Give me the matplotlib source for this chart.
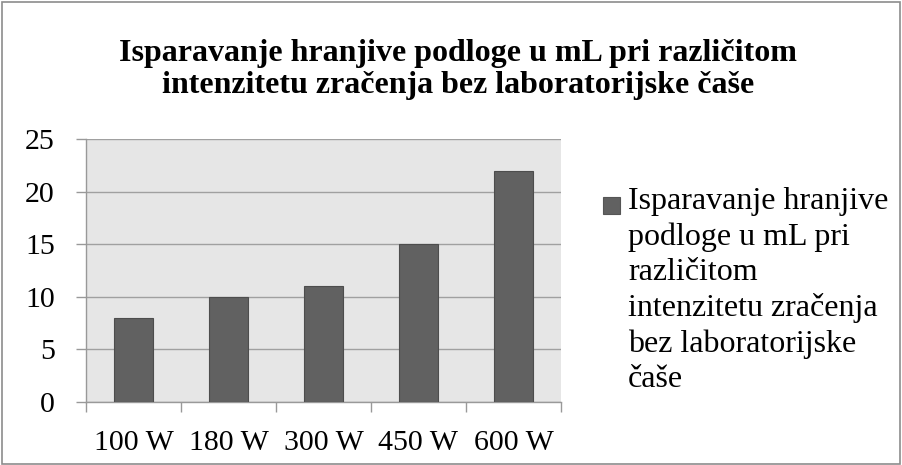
import matplotlib
matplotlib.use("Agg")
import matplotlib.pyplot as plt
from matplotlib.patches import Rectangle
from matplotlib.legend_handler import HandlerPatch

categories = ["100 W", "180 W", "300 W", "450 W", "600 W"]
values = [8, 10, 11, 15, 22]
yticks = [0, 5, 10, 15, 20, 25]
title_lines = ["Isparavanje hranjive podloge u mL pri različitom",
               "intenzitetu zračenja bez laboratorijske čaše"]
legend_label = "Isparavanje hranjive\npodloge u mL pri\nrazličitom\nintenzitetu zračenja\nbez laboratorijske\nčaše"

plt.rcParams['font.family'] = ['Liberation Serif', 'DejaVu Serif']

DPI = 100
W, H = 902, 465
fig = plt.figure(figsize=(W / DPI, H / DPI), dpi=DPI)
fig.patch.set_facecolor('white')
fig.add_artist(Rectangle((0.002, 0.003), 0.996, 0.993, transform=fig.transFigure,
                         fill=False, edgecolor='#8c8c8c', linewidth=1.2))

l, r, t, b = 86, 561, 139, 402
ax = fig.add_axes([l / W, 1 - b / H, (r - l) / W, (b - t) / H])
ax.set_facecolor('#e6e6e6')
x = list(range(len(categories)))
bars = ax.bar(x, values, width=0.41, color='#616161', edgecolor='#4d4d4d', linewidth=0.8,
              label=legend_label, zorder=3)
ax.set_xlim(-0.5, len(categories) - 0.5)
ax.set_ylim(0, 25)
ax.set_yticks(yticks)
ax.yaxis.grid(True, color='#a0a0a0', linewidth=1.0, zorder=1)
ax.set_axisbelow(True)
for s in ['top', 'right']:
    ax.spines[s].set_visible(False)
for s in ['left', 'bottom']:
    ax.spines[s].set_color('#999999')
    ax.spines[s].set_linewidth(1.0)
ax.set_xticks([i - 0.5 for i in range(len(categories) + 1)], minor=False)
ax.set_xticklabels([''] * (len(categories) + 1))
ax.set_xticks(x, minor=True)
ax.set_xticklabels(categories, minor=True, fontsize=21.5)
XPAD, YPAD = 19.0, 14.0
ax.tick_params(axis='x', which='major', length=7.5, color='#999999', width=1.0)
ax.tick_params(axis='x', which='minor', length=0, pad=XPAD)
ax.tick_params(axis='y', length=7.5, color='#999999', width=1.0, labelsize=21.5, pad=YPAD)

# title, two lines at their baselines
for line, base in zip(title_lines, [61, 93.5]):
    fig.text(458 / W, 1 - base / H, line, ha='center', va='baseline', fontsize=23,
             fontweight='bold')

FS = 23


class TopSquare(HandlerPatch):
    def create_artists(self, legend, orig_handle, xdescent, ydescent, width, height, fontsize, trans):
        s = 0.52 * fontsize
        p = Rectangle((-xdescent, -ydescent), s, s,
                      facecolor=orig_handle.get_facecolor(), edgecolor='#555555', lw=0.8,
                      transform=trans)
        return [p]


anchor = [602 / W, 1 - 190 / H]
leg = fig.legend(handles=[bars.patches[0]], labels=[legend_label], loc='upper left',
                 bbox_to_anchor=tuple(anchor), frameon=False, fontsize=FS,
                 handlelength=0.55, handleheight=0.7, handletextpad=0.3,
                 borderpad=0, borderaxespad=0,
                 handler_map={Rectangle: TopSquare()})

# --- calibrate layout against the reference's pixel positions ---
fig.canvas.draw()
rend = fig.canvas.get_renderer()
txt = leg.get_texts()[0]
_, lp_h, lp_d = rend.get_text_width_height_descent("lp", txt.get_fontproperties(), ismath=False)
txt.set_linespacing((35.0 - lp_d) / (lp_h - lp_d))
fig.canvas.draw()
ext = txt.get_window_extent(rend)
last_base = ext.y0 + lp_d
dy = (H - 387) - last_base
dx = 628 - ext.x0
anchor = [anchor[0] + dx / W, anchor[1] + dy / H]
leg.set_bbox_to_anchor(tuple(anchor), transform=fig.transFigure)
fig.canvas.draw()
handle = leg.legend_handles[0]
hext = handle.get_window_extent(rend)
hdx = 603 - hext.x0
hdy = (H - 197) - hext.y1
handle.set_x(handle.get_x() + hdx * 72 / DPI)
handle.set_y(handle.get_y() + hdy * 72 / DPI)

# x tick labels: baseline at y=450
lab = [tl for tl in ax.xaxis.get_minorticklabels() if tl.get_text()][0]
_, _, d2 = rend.get_text_width_height_descent("lp", lab.get_fontproperties(), ismath=False)
e2 = lab.get_window_extent(rend)
base2 = e2.y0 + d2
ax.tick_params(axis='x', which='minor', pad=XPAD + (base2 - (H - 450)) * 72 / DPI)
# y tick labels: right edge at x=55
ylab = [tl for tl in ax.yaxis.get_majorticklabels() if tl.get_text()][-1]
e3 = ylab.get_window_extent(rend)
ax.tick_params(axis='y', pad=YPAD + (e3.x1 - 55) * 72 / DPI)

fig.savefig("out.png", dpi=DPI)
